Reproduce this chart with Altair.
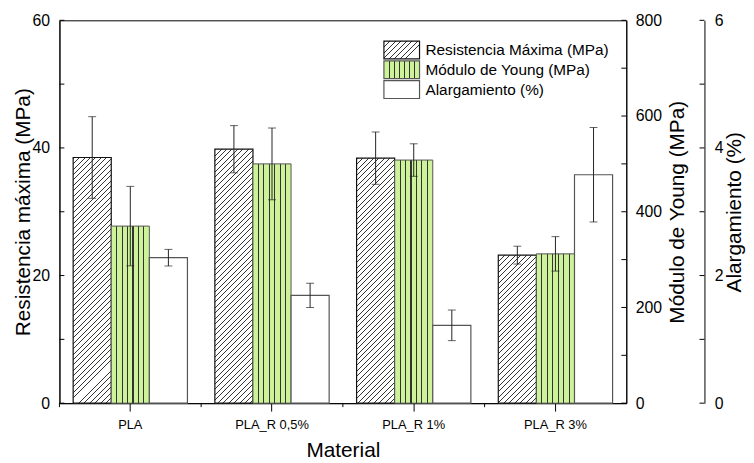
import altair as alt
import pandas as pd

# ---------------- data ----------------
materials = ["PLA", "PLA_R 0,5%", "PLA_R 1%", "PLA_R 3%"]
series = ["Resistencia Máxima (MPa)", "Módulo de Young (MPa)", "Alargamiento (%)"]

resistencia = [38.5, 39.8, 38.4, 23.2]
resistencia_err = [6.4, 3.7, 4.1, 1.4]

young = [370, 500, 508, 312]
young_err = [83, 75, 34, 36]

alargamiento = [2.28, 1.69, 1.22, 3.58]
alargamiento_err = [0.13, 0.19, 0.24, 0.74]

res_ticks = [0, 10, 20, 30, 40, 50, 60]
res_labels = [0, 20, 40, 60]
young_ticks = [0, 100, 200, 300, 400, 500, 600, 700, 800]
young_labels = [0, 200, 400, 600, 800]
alarg_ticks = [0, 1, 2, 3, 4, 5, 6]
alarg_labels = [0, 2, 4, 6]

# ---------------- layout / style ----------------
W, H = 573, 387
FONT = "Liberation Sans"
GREEN = "#cdf29a"
OUTER_OFFSET = 79
OFF_PAD = 0.36
BAR_W = (W / len(materials)) / (3 + 2 * OFF_PAD)

RES_DOMAIN = [0, 60]
YOUNG_DOMAIN = [0, 800]
ALARG_DOMAIN = [0, 6]


def stop(c, o):
    return alt.GradientStop(color=c, offset=max(0.0, min(1.0, o)))


def hatch(w, h, spacing=5.5, line=1.0, bg="white", fg="#333333"):
    k = h / w
    denom = w * (1 + k * k)
    total = w + h
    stops = [stop(bg, 0)]
    s = line
    while s < total:
        a = (s - line / 2) / denom
        b = (s + line / 2) / denom
        stops += [stop(bg, a), stop(fg, a), stop(fg, b), stop(bg, b)]
        s += spacing
    stops.append(stop(bg, 1))
    return alt.LinearGradient(gradient="linear", stops=stops, x1=0, y1=0, x2=1, y2=k)


def stripes(n=7, frac=0.028, bg=GREEN, fg="#333333"):
    stops = [stop(bg, 0)]
    for i in range(1, n):
        f = i / n
        a, b = f - frac / 2, f + frac / 2
        stops += [stop(bg, a), stop(fg, a), stop(fg, b), stop(bg, b)]
    stops.append(stop(bg, 1))
    return alt.LinearGradient(gradient="linear", stops=stops, x1=0, y1=0, x2=1, y2=0)


def xenc(band_pos=None):
    kw = {}
    if band_pos is not None:
        kw["bandPosition"] = band_pos
    return alt.X(
        "Material:N",
        sort=materials,
        scale=alt.Scale(domain=materials, paddingInner=0, paddingOuter=0),
        axis=alt.Axis(
            title="Material", labelAngle=0, labelFontSize=13, labelColor="black",
            tickSize=8, tickColor="black", labelPadding=8, domainColor="black",
            titleFontSize=21, titleFontWeight="normal", titleColor="black",
            titleY=54, titleBaseline="alphabetic", grid=False,
        ),
        **kw,
    )


def xoff():
    return alt.XOffset(
        "Serie:N",
        scale=alt.Scale(domain=series, paddingInner=0, paddingOuter=OFF_PAD),
    )


def yenc(field, domain, axis=None):
    return alt.Y(field, scale=alt.Scale(domain=domain, nice=False, zero=True),
                 axis=axis)


df_res = pd.DataFrame({"Material": materials, "Serie": series[0],
                       "valor": resistencia, "err": resistencia_err})
df_young = pd.DataFrame({"Material": materials, "Serie": series[1],
                         "valor": young, "err": young_err})
df_alarg = pd.DataFrame({"Material": materials, "Serie": series[2],
                         "valor": alargamiento, "err": alargamiento_err})

left_axis = alt.Axis(
    orient="left", title="Resistencia máxima (MPa)", values=res_labels,
    ticks=False, tickSize=0, labelPadding=10, labelFontSize=16, labelColor="black",
    titleFontSize=21, titleFontWeight="normal", titleColor="black",
    titleX=-30, titleY=H / 2, titleAngle=270, titleBaseline="alphabetic",
    titleAlign="center", domainColor="black", grid=False,
)
young_axis = alt.Axis(
    orient="right", title="Módulo de Young (MPa)", values=young_labels,
    ticks=False, tickSize=0, labelPadding=9, labelFontSize=16, labelColor="black",
    titleFontSize=21, titleFontWeight="normal", titleColor="black",
    titleX=58, titleY=H / 2, titleAngle=270, titleBaseline="alphabetic",
    titleAlign="center", domainColor="black", grid=False,
)
alarg_axis = alt.Axis(
    orient="right", offset=OUTER_OFFSET, title="Alargamiento (%)", values=alarg_labels,
    ticks=False, tickSize=0, labelPadding=10, labelFontSize=16, labelColor="black",
    titleFontSize=21, titleFontWeight="normal", titleColor="black",
    titleX=36, titleY=H / 2, titleAngle=270, titleBaseline="alphabetic",
    titleAlign="center", domainColor="black", grid=False,
)

layers = []

# hatched bars (one layer per bar so the hatch angle is right)
for i, m in enumerate(materials):
    h = resistencia[i] / RES_DOMAIN[1] * H
    layers.append(
        alt.Chart(df_res)
        .transform_filter(alt.FieldEqualPredicate(field="Material", equal=m))
        .mark_bar(fill=hatch(BAR_W, h), stroke="#111111", strokeWidth=1.2)
        .encode(x=xenc(), xOffset=xoff(),
                y=yenc("valor:Q", RES_DOMAIN, left_axis if i == 0 else None))
    )

# green striped bars
layers.append(
    alt.Chart(df_young)
    .mark_bar(fill=stripes(), stroke="#555555", strokeWidth=1)
    .encode(x=xenc(), xOffset=xoff(), y=yenc("valor:Q", YOUNG_DOMAIN, young_axis))
)

# white bars
layers.append(
    alt.Chart(df_alarg)
    .mark_bar(fill="white", stroke="#555555", strokeWidth=1.2)
    .encode(x=xenc(), xOffset=xoff(), y=yenc("valor:Q", ALARG_DOMAIN, alarg_axis))
)

# error bars
for df, dom in [(df_res, RES_DOMAIN), (df_young, YOUNG_DOMAIN), (df_alarg, ALARG_DOMAIN)]:
    base = alt.Chart(df).transform_calculate(
        lo="datum.valor - datum.err", hi="datum.valor + datum.err")
    layers.append(
        base.mark_rule(color="#222222", strokeWidth=1)
        .encode(x=xenc(), xOffset=xoff(), y=yenc("lo:Q", dom), y2="hi:Q")
    )
    for f in ["lo:Q", "hi:Q"]:
        layers.append(
            base.mark_tick(color="#222222", thickness=1, size=8, orient="horizontal")
            .encode(x=xenc(), xOffset=xoff(), y=yenc(f, dom))
        )

# inward axis ticks
layers.append(
    alt.Chart(pd.DataFrame({"v": res_ticks})).mark_rule(color="black")
    .encode(y=yenc("v:Q", RES_DOMAIN), x=alt.value(0), x2=alt.value(5))
)
layers.append(
    alt.Chart(pd.DataFrame({"v": young_ticks})).mark_rule(color="black")
    .encode(y=yenc("v:Q", YOUNG_DOMAIN), x=alt.value(W - 5), x2=alt.value(W))
)
layers.append(
    alt.Chart(pd.DataFrame({"v": alarg_ticks})).mark_rule(color="black")
    .encode(y=yenc("v:Q", ALARG_DOMAIN),
            x=alt.value(W + OUTER_OFFSET - 5), x2=alt.value(W + OUTER_OFFSET))
)
# minor x ticks at category boundaries
layers.append(
    alt.Chart(pd.DataFrame({"Material": materials})).mark_rule(color="black")
    .encode(x=xenc(band_pos=0), y=alt.value(H), y2=alt.value(H + 4))
)

# legend
sym_fills = [hatch(36, 18), stripes(), "white"]
sym_strokes = ["#111111", "#555555", "#555555"]
for i, s in enumerate(series):
    top = 21 + 20 * i
    dfl = pd.DataFrame({"label": [s]})
    layers.append(
        alt.Chart(dfl).mark_rect(fill=sym_fills[i], stroke=sym_strokes[i], strokeWidth=1.2)
        .encode(x=alt.value(328), x2=alt.value(364), y=alt.value(top), y2=alt.value(top + 18))
    )
    layers.append(
        alt.Chart(dfl).mark_text(align="left", baseline="middle", fontSize=15.5,
                                 font=FONT, color="black")
        .encode(x=alt.value(370), y=alt.value(top + 9), text="label:N")
    )

chart = (
    alt.layer(*layers)
    .resolve_scale(y="independent")
    .properties(
        width=W, height=H,
        autosize=alt.AutoSizeParams(type="none"),
        padding={"left": 52, "top": 10, "right": 121, "bottom": 56},
    )
    .configure(font=FONT)
    .configure_view(stroke="black", strokeWidth=1)
)

chart.save("out.html", embed_options={"renderer": "svg", "actions": False})
